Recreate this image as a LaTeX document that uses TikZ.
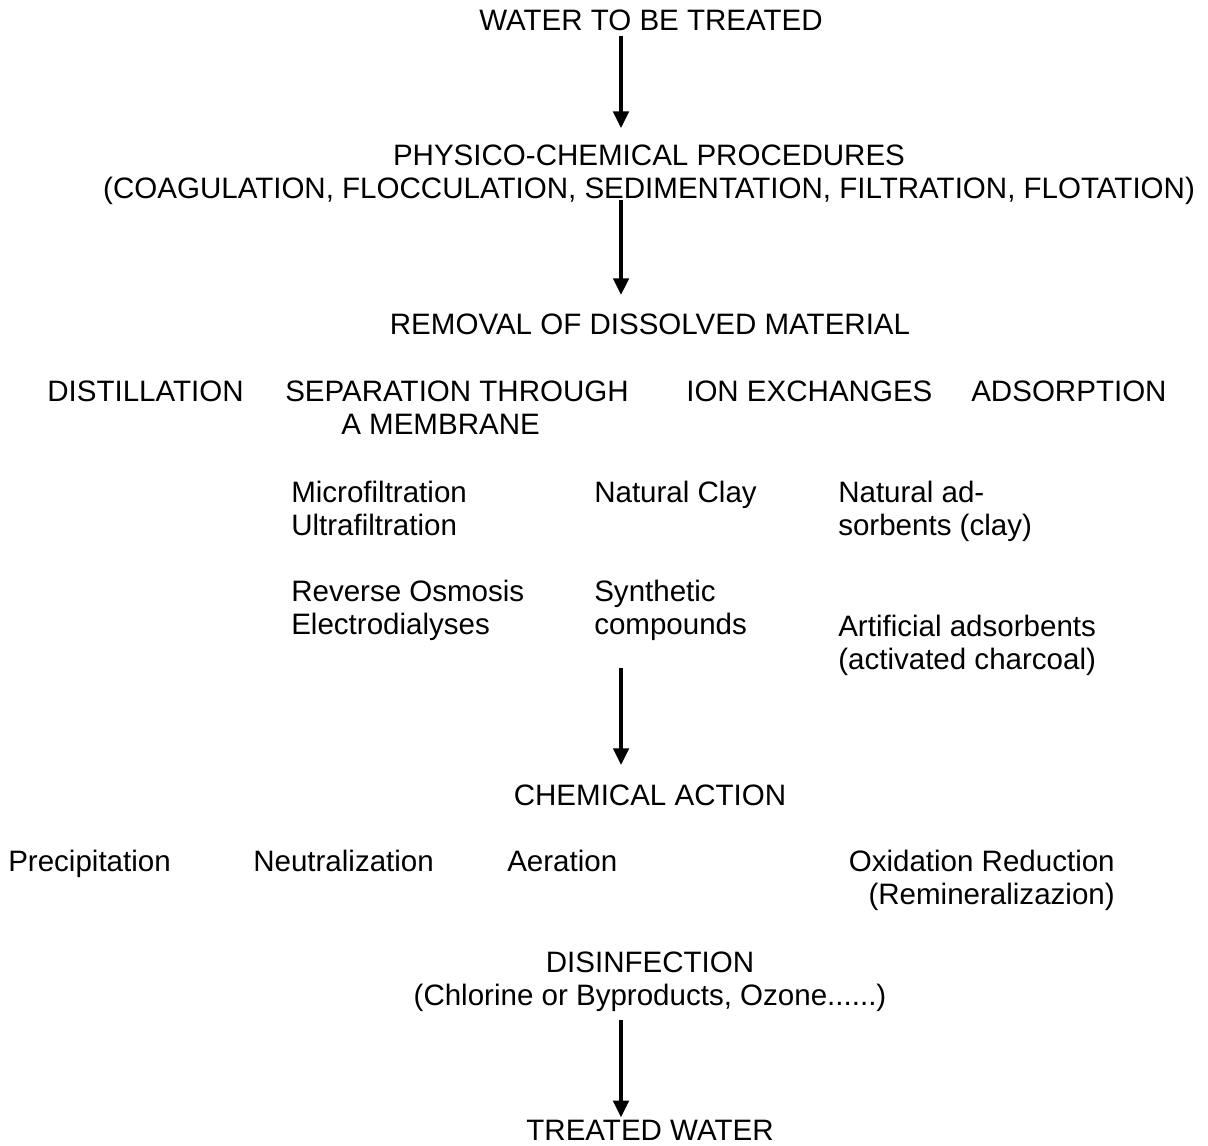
\documentclass[tikz,border=0pt]{standalone}
\usepackage{fontspec}
\setmainfont{Liberation Sans}
\usetikzlibrary{arrows.meta}

\begin{document}
\begin{tikzpicture}[x=0.025cm,y=-0.025cm,>={Triangle[length=0.42cm,width=0.38cm]},
  every node/.style={inner sep=0pt,font=\fontsize{21}{23.4}\selectfont},
  txt/.style={anchor=base west,align=left},
  flow/.style={->,line width=2.8pt}]
  \useasboundingbox (0,0) rectangle (1208,1145);
  \coordinate (axis) at (621,0);
  % main line
  \node[anchor=base] (water) at (651,30) {WATER TO BE TREATED};
  \node[anchor=base,align=center] (physico) at (649,198)
    {PHYSICO-CHEMICAL PROCEDURES\\(COAGULATION, FLOCCULATION, SEDIMENTATION, FILTRATION, FLOTATION)};
  \node[anchor=base] (removal) at (650,334) {REMOVAL OF DISSOLVED MATERIAL};
  % dissolved material
  \node[txt] (distil) at (47,401) {DISTILLATION};
  \node[txt] (membrane) at (285,434) {SEPARATION THROUGH\\\hspace*{1.4cm}A MEMBRANE};
  \node[txt] (ionex) at (686,401) {ION EXCHANGES};
  \node[txt] (adsorp) at (971,401) {ADSORPTION};
  \node[txt] (micro) at (291,535) {Microfiltration\\Ultrafiltration};
  \node[txt] (osmosis) at (291,634) {Reverse Osmosis\\Electrodialyses};
  \node[txt] (clay) at (594,502) {Natural Clay};
  \node[txt] (synth) at (594,634) {Synthetic\\compounds};
  \node[txt] (natads) at (838,535) {Natural ad-\\sorbents (clay)};
  \node[txt] (artads) at (838,669) {Artificial adsorbents\\(activated charcoal)};
  % chemical action
  \node[anchor=base] (chem) at (650,805) {CHEMICAL ACTION};
  \node[txt] (precip) at (8,871) {Precipitation};
  \node[txt] (neutral) at (253,871) {Neutralization};
  \node[txt] (aeration) at (507,871) {Aeration};
  \node[anchor=base east,align=right] (oxred) at (1115,904) {Oxidation Reduction\\(Remineralizazion)};
  % end
  \node[anchor=base,align=center] (disinf) at (650,1005) {DISINFECTION\\(Chlorine or Byproducts, Ozone......)};
  \node[anchor=base] (treated) at (650,1140) {TREATED WATER};
  % arrows
  \draw[flow,shorten <=0.125cm,shorten >=0.4cm] (water.south -| axis) -- (physico.north -| axis);
  \draw[flow,shorten <=-0.1cm,shorten >=0.45cm] (physico.south -| axis) -- (removal.north -| axis);
  \draw[flow,shorten <=0.7cm,shorten >=0.475cm] (synth.south -| axis) -- (chem.north -| axis);
  \draw[flow,shorten <=0.225cm,shorten >=0.05cm] (disinf.south -| axis) -- (treated.north -| axis);
\end{tikzpicture}
\end{document}
